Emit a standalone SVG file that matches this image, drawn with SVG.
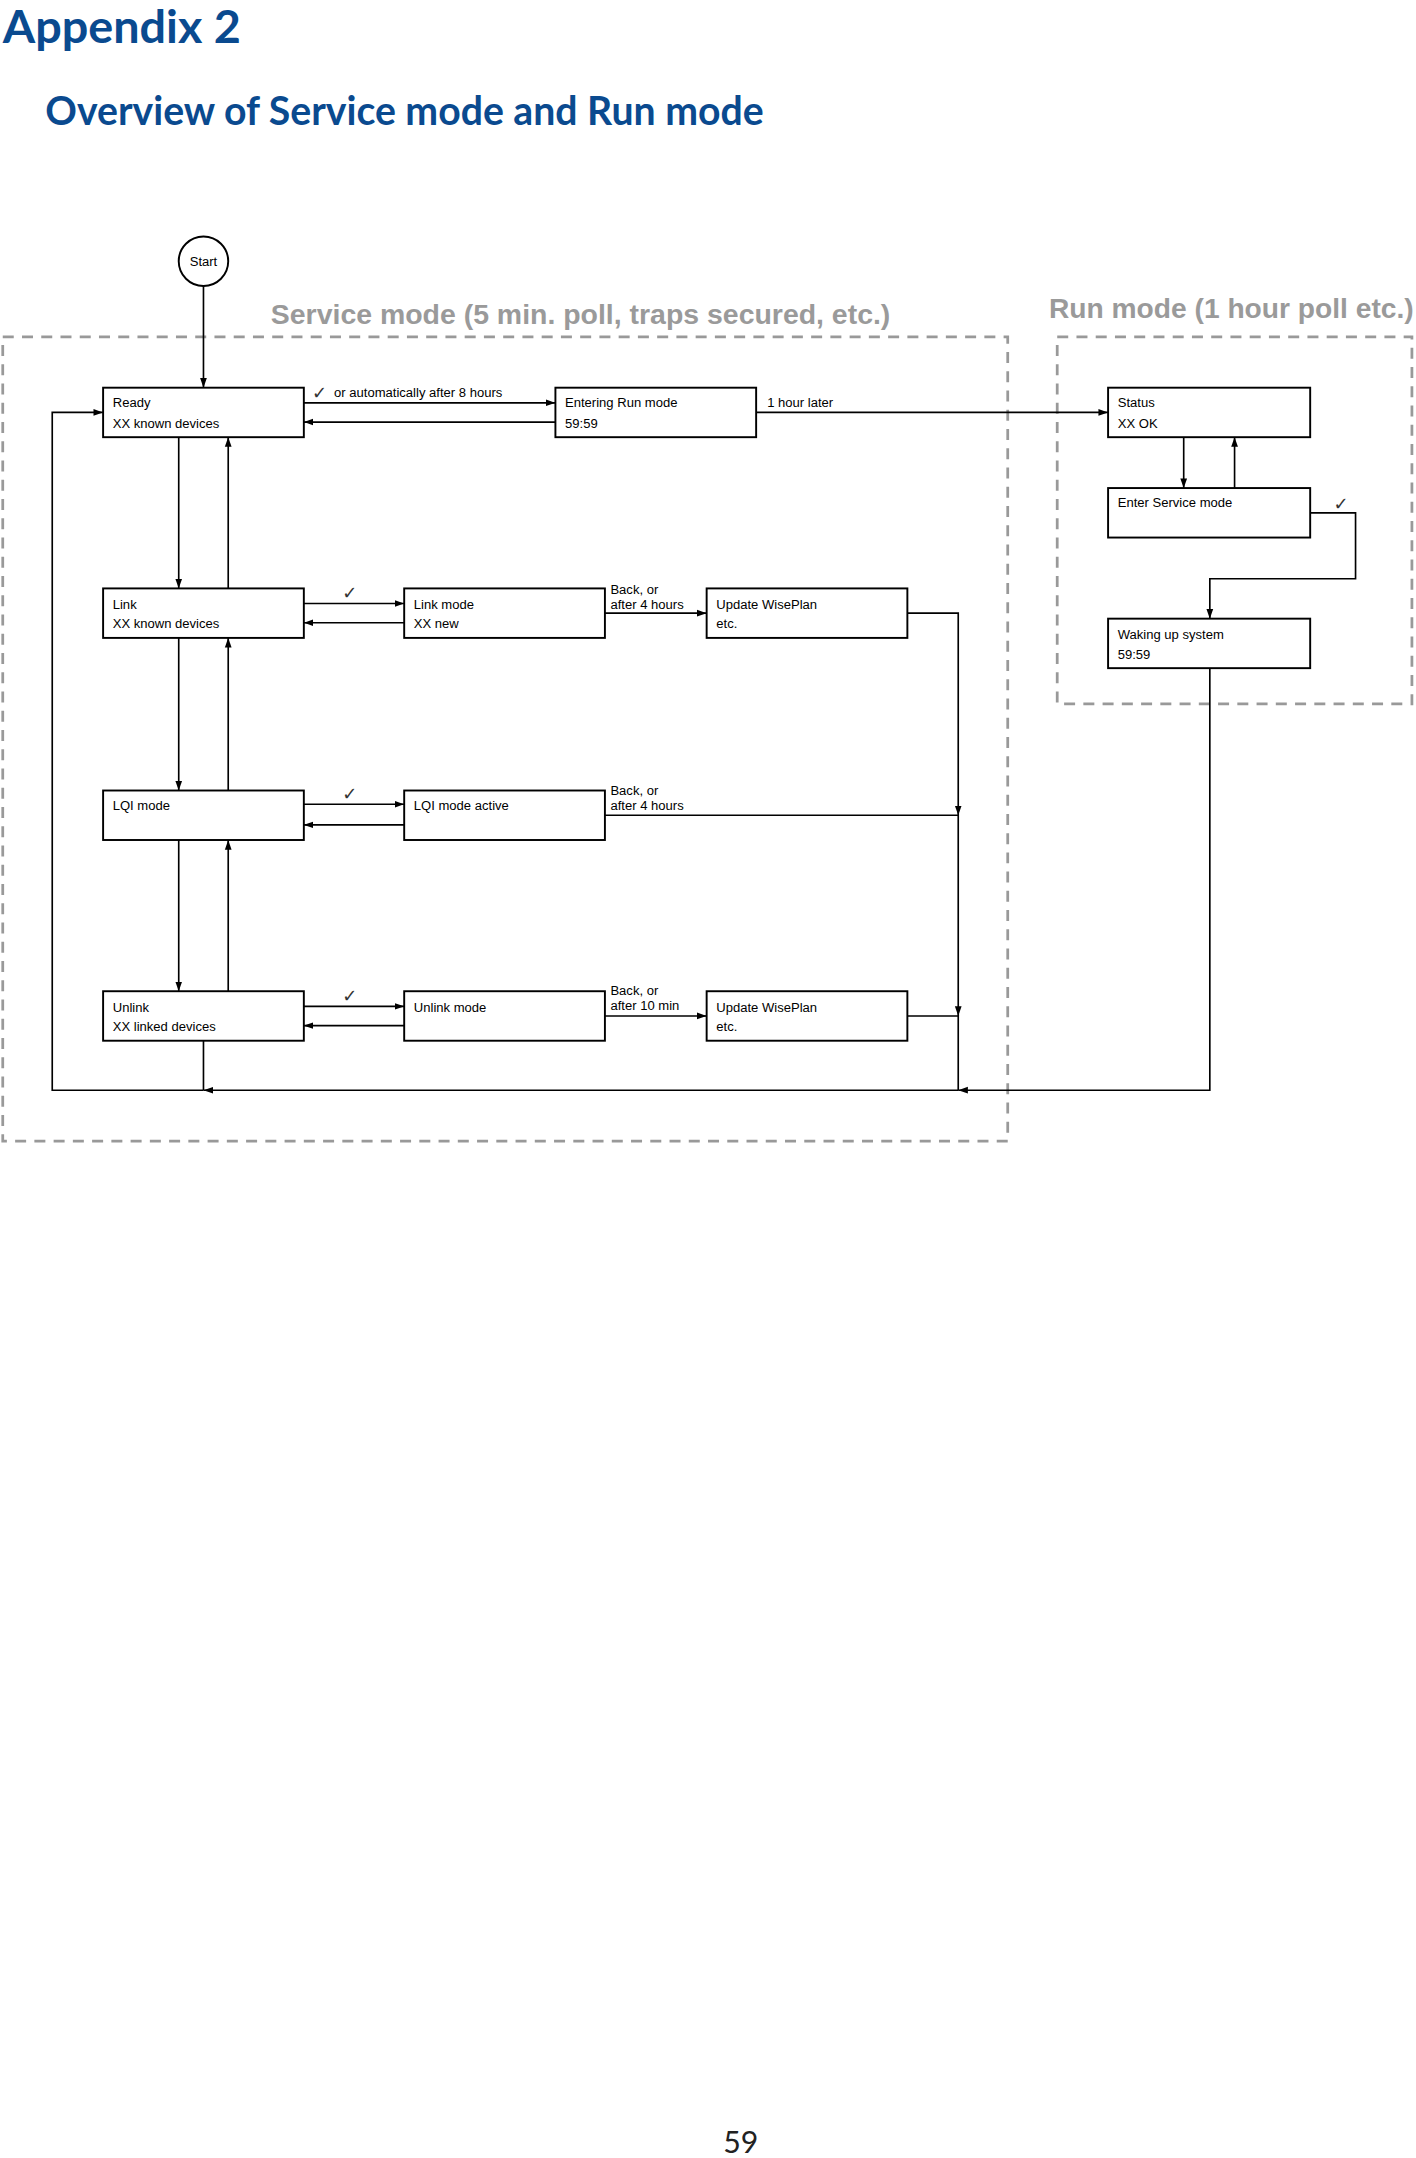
<svg xmlns="http://www.w3.org/2000/svg" width="1416" height="2158" viewBox="0 0 1416 2158">
<style>
.t{font-family:"Liberation Sans",Arial,sans-serif;font-size:9.5px;fill:#000}
.bx{fill:#fff;stroke:#000;stroke-width:1.4}
.c{fill:none;stroke:#000;stroke-width:1.2}
.dash{fill:none;stroke:#999;stroke-width:2;stroke-dasharray:8,6}
.grey{font-family:"Liberation Sans",Arial,sans-serif;font-weight:bold;fill:#9a9a9a}
.blue{font-family:Lato,"Liberation Sans",sans-serif;font-weight:bold;fill:#0a4a8f}
.ck{font-family:"DejaVu Sans",sans-serif;font-size:13px;fill:#333}
</style>
<defs><marker id="a" viewBox="0 0 10 10" refX="10" refY="5" markerWidth="7" markerHeight="7" markerUnits="userSpaceOnUse" orient="auto"><path d="M0,1.5L10,5L0,8.5z" fill="#000"/></marker></defs>
<rect width="1416" height="2158" fill="#fff"/>
<g transform="scale(1.3748)">
<text class="blue" x="2" y="31" font-size="34">Appendix 2</text>
<text class="blue" x="33" y="91" font-size="28.5">Overview of Service mode and Run mode</text>
<text class="grey" x="197" y="236" font-size="20.7">Service mode (5 min. poll, traps secured, etc.)</text>
<text class="grey" x="763" y="231" font-size="20.5">Run mode (1 hour poll etc.)</text>
<rect class="dash" x="2" y="245" width="731" height="585"/>
<rect class="dash" x="769" y="245" width="258" height="267"/>
<text x="526" y="1566" font-family="Lato,'Liberation Sans',sans-serif" font-size="22" fill="#222">59</text>
<g id="connectors">
<path class="c" d="M148,208V282" marker-end="url(#a)"/>
<path class="c" d="M221,293H404" marker-end="url(#a)"/>
<path class="c" d="M404,307H221" marker-end="url(#a)"/>
<path class="c" d="M550,300H806" marker-end="url(#a)"/>
<path class="c" d="M130,318V428" marker-end="url(#a)"/>
<path class="c" d="M166,428V318" marker-end="url(#a)"/>
<path class="c" d="M130,464V575" marker-end="url(#a)"/>
<path class="c" d="M166,575V464" marker-end="url(#a)"/>
<path class="c" d="M130,611V721" marker-end="url(#a)"/>
<path class="c" d="M166,721V611" marker-end="url(#a)"/>
<path class="c" d="M221,439H294" marker-end="url(#a)"/>
<path class="c" d="M294,453H221" marker-end="url(#a)"/>
<path class="c" d="M440,446H514" marker-end="url(#a)"/>
<path class="c" d="M221,585H294" marker-end="url(#a)"/>
<path class="c" d="M294,600H221" marker-end="url(#a)"/>
<path class="c" d="M221,732H294" marker-end="url(#a)"/>
<path class="c" d="M294,746H221" marker-end="url(#a)"/>
<path class="c" d="M440,739H514" marker-end="url(#a)"/>
<path class="c" d="M660,446H697V593" marker-end="url(#a)"/>
<path class="c" d="M440,593H697V739" marker-end="url(#a)"/>
<path class="c" d="M660,739H697V793"/>
<path class="c" d="M148,757V793"/>
<path class="c" d="M880,486V793H697" marker-end="url(#a)"/>
<path class="c" d="M697,793H148" marker-end="url(#a)"/>
<path class="c" d="M148,793H38V300H75" marker-end="url(#a)"/>
<path class="c" d="M861,318V355" marker-end="url(#a)"/>
<path class="c" d="M898,355V318" marker-end="url(#a)"/>
<path class="c" d="M953,373H986V421H880V450" marker-end="url(#a)"/>
<text class="ck" x="227" y="290">✓</text>
<text class="t" x="243" y="289">or automatically after 8 hours</text>
<text class="t" x="558" y="296">1 hour later</text>
<text class="ck" x="249" y="436">✓</text>
<text class="ck" x="249" y="582">✓</text>
<text class="ck" x="249" y="729">✓</text>
<text class="ck" x="970" y="371">✓</text>
<text class="t" x="444" y="432">Back, or</text><text class="t" x="444" y="443">after 4 hours</text>
<text class="t" x="444" y="578">Back, or</text><text class="t" x="444" y="589">after 4 hours</text>
<text class="t" x="444" y="724">Back, or</text><text class="t" x="444" y="735">after 10 min</text>
</g>
<g id="start"><circle cx="148" cy="190" r="18" fill="#fff" stroke="#000" stroke-width="1.4"/><text class="t" x="148" y="193.5" text-anchor="middle">Start</text></g>
<g id="ready"><rect class="bx" x="75" y="282" width="146" height="36"/><text class="t" x="82" y="296">Ready</text><text class="t" x="82" y="311">XX known devices</text></g>
<g id="entering"><rect class="bx" x="404" y="282" width="146" height="36"/><text class="t" x="411" y="296">Entering Run mode</text><text class="t" x="411" y="311">59:59</text></g>
<g id="link"><rect class="bx" x="75" y="428" width="146" height="36"/><text class="t" x="82" y="443">Link</text><text class="t" x="82" y="457">XX known  devices</text></g>
<g id="linkmode"><rect class="bx" x="294" y="428" width="146" height="36"/><text class="t" x="301" y="443">Link mode</text><text class="t" x="301" y="457">XX new</text></g>
<g id="update1"><rect class="bx" x="514" y="428" width="146" height="36"/><text class="t" x="521" y="443">Update WisePlan</text><text class="t" x="521" y="457">etc.</text></g>
<g id="lqi"><rect class="bx" x="75" y="575" width="146" height="36"/><text class="t" x="82" y="589">LQI mode</text></g>
<g id="lqiactive"><rect class="bx" x="294" y="575" width="146" height="36"/><text class="t" x="301" y="589">LQI mode active</text></g>
<g id="unlink"><rect class="bx" x="75" y="721" width="146" height="36"/><text class="t" x="82" y="736">Unlink</text><text class="t" x="82" y="750">XX linked devices</text></g>
<g id="unlinkmode"><rect class="bx" x="294" y="721" width="146" height="36"/><text class="t" x="301" y="736">Unlink mode</text></g>
<g id="update2"><rect class="bx" x="514" y="721" width="146" height="36"/><text class="t" x="521" y="736">Update WisePlan</text><text class="t" x="521" y="750">etc.</text></g>
<g id="status"><rect class="bx" x="806" y="282" width="147" height="36"/><text class="t" x="813" y="296">Status</text><text class="t" x="813" y="311">XX OK</text></g>
<g id="enterservice"><rect class="bx" x="806" y="355" width="147" height="36"/><text class="t" x="813" y="369">Enter Service mode</text></g>
<g id="waking"><rect class="bx" x="806" y="450" width="147" height="36"/><text class="t" x="813" y="465">Waking up system</text><text class="t" x="813" y="479">59:59</text></g>
</g>
</svg>
